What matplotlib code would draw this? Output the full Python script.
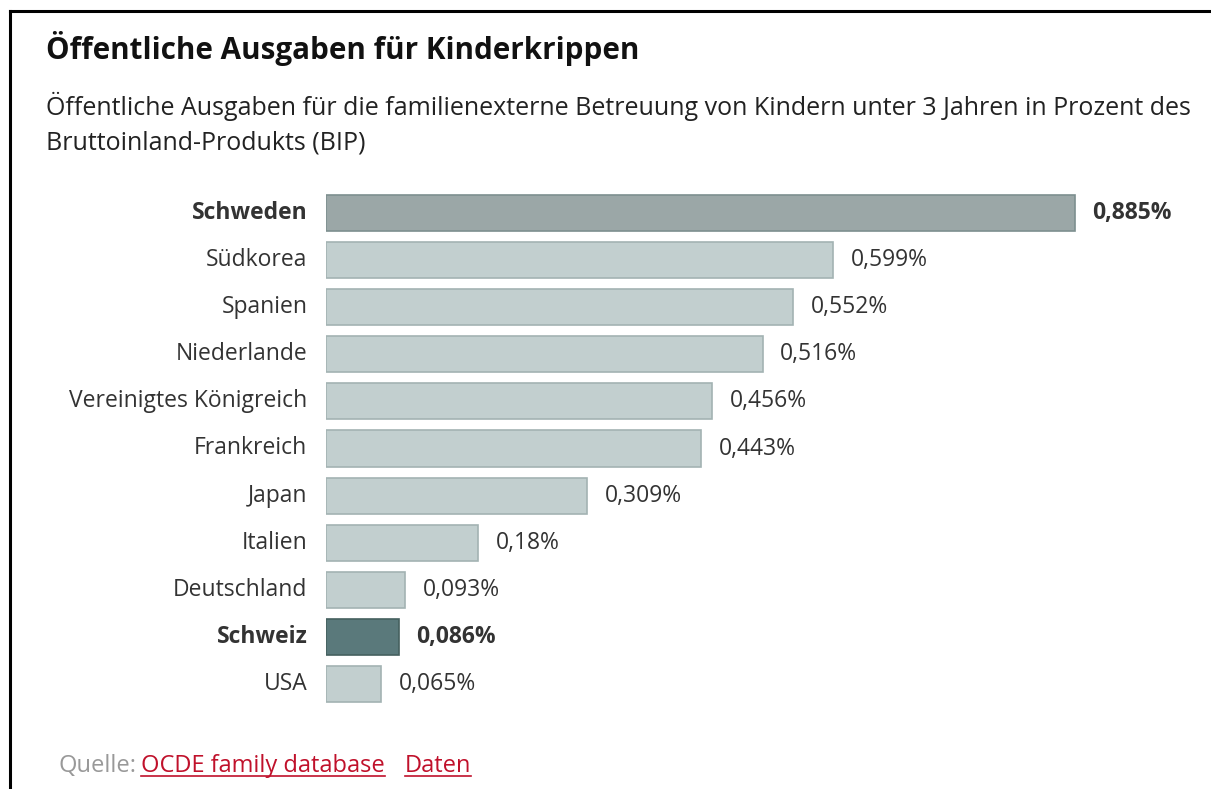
import matplotlib
matplotlib.use('Agg')
import matplotlib.pyplot as plt
from matplotlib.lines import Line2D

# Data from chart
countries = ['Schweden', 'Südkorea', 'Spanien', 'Niederlande', 'Vereinigtes Königreich',
             'Frankreich', 'Japan', 'Italien', 'Deutschland', 'Schweiz', 'USA']
values = [0.885, 0.599, 0.552, 0.516, 0.456, 0.443, 0.309, 0.18, 0.093, 0.086, 0.065]
value_labels = ['0,885%', '0,599%', '0,552%', '0,516%', '0,456%', '0,443%', '0,309%',
                '0,18%', '0,093%', '0,086%', '0,065%']
highlight = {'Schweden': '#9ba7a7', 'Schweiz': '#5a797b'}

plt.rcParams['font.family'] = ['Open Sans', 'DejaVu Sans']

W, H = 1211, 789
fig = plt.figure(figsize=(W / 100, H / 100), dpi=100)
fig.patch.set_facecolor('white')

def px(x, y):
    return x / W, 1 - y / H

# frame lines (top and left)
fig.add_artist(Line2D([px(10, 0)[0], 1], [px(0, 11)[1]] * 2, color='black', lw=2.2))
fig.add_artist(Line2D([px(10, 0)[0]] * 2, [0, px(0, 11)[1]], color='black', lw=2.2))

fig.text(*px(46, 49), 'Öffentliche Ausgaben für Kinderkrippen', fontsize=21.3,
         fontweight='bold', color='#111111', va='center', ha='left')
fig.text(*px(46, 106), 'Öffentliche Ausgaben für die familienexterne Betreuung von Kindern '
         'unter 3 Jahren in Prozent des', fontsize=18, color='#222222', va='center')
fig.text(*px(46, 143), 'Bruttoinland-Produkts (BIP)', fontsize=18, color='#222222', va='center')

# axes: bars from x=326, 846 px per 1.0
left, top, bottom = 326, 189.5, 707.5
ax = fig.add_axes([left / W, 1 - bottom / H, 846 / W, (bottom - top) / H])
ax.set_xlim(0, 1.0)
ax.set_ylim(len(countries) - 0.5, -0.5)
ax.axis('off')

for i, (c, v, lab) in enumerate(zip(countries, values, value_labels)):
    face = highlight.get(c, '#c2cfcf')
    edge = '#7d8f8f' if c in highlight else '#a3b3b3'
    if c == 'Schweiz':
        edge = '#45605f'
    ax.barh(i, v, height=0.765, color=face, edgecolor=edge, linewidth=1.2)
    bold = c in highlight
    ax.text(v + 0.021, i, lab, va='center', ha='left', fontsize=16.5,
            color='#333333', fontweight='bold' if bold else 'normal')
    ax.text(-0.022, i, c, va='center', ha='right', fontsize=16.5,
            color='#333333', fontweight='bold' if bold else 'normal')

# source line with underlined links
t1 = fig.text(*px(58, 766), 'Quelle:', fontsize=17, color='#999999', va='center')
fig.canvas.draw()
r = fig.canvas.get_renderer()
bb = t1.get_window_extent(r)
t2 = fig.text((bb.x1 + 5) / W, px(0, 766)[1], 'OCDE family database', fontsize=17,
              color='#c0112b', va='center')
bb2 = t2.get_window_extent(r)
t3 = fig.text((bb2.x1 + 20) / W, px(0, 766)[1], 'Daten', fontsize=17,
              color='#c0112b', va='center')
bb3 = t3.get_window_extent(r)
for b in (bb2, bb3):
    yy = (b.y0 + 2) / H
    fig.add_artist(Line2D([b.x0 / W, b.x1 / W], [yy, yy], color='#c0112b', lw=1.2))

fig.savefig('out.png', dpi=100, facecolor='white')
